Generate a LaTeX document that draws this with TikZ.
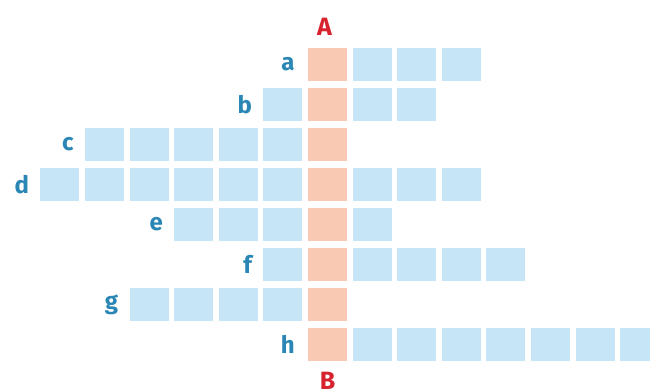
\documentclass[tikz,border=0pt]{standalone}
\usepackage{fontspec}
\setmainfont{Fira Sans}
\definecolor{cellblue}{HTML}{C6E6F7}
\definecolor{cellpink}{HTML}{FAC9B4}
\definecolor{lblblue}{HTML}{2A86B5}
\definecolor{lblred}{HTML}{D7232E}
\tikzset{
  cell/.style={rectangle, minimum width=39pt, minimum height=33pt, inner sep=0pt, fill=cellblue},
  keycell/.style={cell, fill=cellpink},
  rowlabel/.style={anchor=east, inner sep=0pt, text=lblblue, font=\fontsize{24}{28}\selectfont\bfseries},
  endlabel/.style={inner sep=0pt, text=lblred, font=\fontsize{25}{29}\selectfont\bfseries}
}
\begin{document}
\begin{tikzpicture}[x=1pt,y=-1pt]
\useasboundingbox (0,0) rectangle (650,388);
% rows: name/row index/left cells/right cells
\foreach \r/\i/\l/\n in {a/0/0/3, b/1/1/2, c/2/5/0, d/3/6/3, e/4/3/1, f/5/1/4, g/6/4/0, h/7/0/7}{
  \node[keycell] (\r0) at (327.5, 64+40.1*\i) {};
  \ifnum\l>0
    \foreach \k in {1,...,\l}{
      \node[cell] (\r L\k) at (327.5-44.6*\k, 64+40.1*\i) {};
    }
    \node[rowlabel] (lab\r) at ([xshift=-11pt]\r L\l.west) {\r};
  \else
    \node[rowlabel] (lab\r) at ([xshift=-13pt]\r0.west) {\r};
  \fi
  \ifnum\n>0
    \foreach \k in {1,...,\n}{
      \node[cell] (\r R\k) at (327.5+44.6*\k, 64+40.1*\i) {};
    }
  \fi
}
\node[endlabel, anchor=south] (labA) at ([xshift=-3pt,yshift=12pt]a0.north) {A};
\node[endlabel, anchor=north] (labB) at ([yshift=-11pt]h0.south) {B};
\end{tikzpicture}
\end{document}
